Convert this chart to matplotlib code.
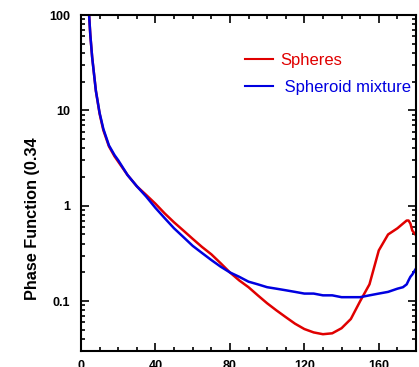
import matplotlib
matplotlib.use("Agg")
import matplotlib.pyplot as plt
from matplotlib.ticker import FixedLocator, MultipleLocator, LogLocator, NullFormatter, FixedFormatter

plt.rcParams['font.family'] = ['Liberation Sans', 'DejaVu Sans']

theta = [3, 4, 5, 6, 7, 8, 10, 12, 15, 18, 20, 25, 30, 35, 40, 45, 50, 55, 60, 65, 70,
         75, 80, 85, 90, 95, 100, 105, 110, 115, 120, 125, 130, 135, 140, 145, 150,
         155, 160, 165, 170, 173, 175, 176, 177, 178, 180]
spheres = [300, 130, 62, 36, 24, 16, 9.2, 6.2, 4.2, 3.3, 2.9, 2.1, 1.6, 1.3, 1.05, 0.83,
           0.67, 0.55, 0.45, 0.37, 0.31, 0.25, 0.2, 0.165, 0.14, 0.115, 0.095, 0.08,
           0.068, 0.058, 0.051, 0.047, 0.045, 0.046, 0.052, 0.065, 0.1, 0.15, 0.34,
           0.5, 0.58, 0.65, 0.7, 0.7, 0.65, 0.55, 0.49]
spheroids = [300, 130, 62, 36, 24, 16, 9.4, 6.4, 4.3, 3.4, 3.0, 2.1, 1.6, 1.25, 0.95,
             0.74, 0.58, 0.47, 0.38, 0.32, 0.27, 0.23, 0.2, 0.18, 0.16, 0.15, 0.14,
             0.135, 0.13, 0.125, 0.12, 0.12, 0.115, 0.115, 0.11, 0.11, 0.11, 0.115,
             0.12, 0.125, 0.135, 0.14, 0.15, 0.165, 0.18, 0.19, 0.22]

labels = ["Spheres", " Spheroid mixture"]
colors = ["#e00000", "#0000e0"]
xticks = [0, 40, 80, 120, 160]
yticks = [0.1, 1, 10, 100]
ytick_labels = ["0.1", "1", "10", "100"]
ylabel = "Phase Function (0.34"

fig = plt.figure(figsize=(4.19, 3.67), dpi=100)
ax = fig.add_axes([81/419, 1 - 351/367, (416 - 81)/419, (351 - 15)/367])

ax.plot(theta, spheres, color=colors[0], lw=1.8, label=labels[0])
ax.plot(theta, spheroids, color=colors[1], lw=1.8, label=labels[1])

ax.set_yscale('log')
ax.set_xlim(0, 180)
ax.set_ylim(0.03, 100)

ax.xaxis.set_major_locator(FixedLocator(xticks))
ax.xaxis.set_minor_locator(MultipleLocator(10))
ax.yaxis.set_major_locator(FixedLocator(yticks))
ax.yaxis.set_major_formatter(FixedFormatter(ytick_labels))
ax.yaxis.set_minor_locator(LogLocator(base=10, subs=range(2, 10)))
ax.yaxis.set_minor_formatter(NullFormatter())

ax.tick_params(which='both', direction='in', top=True, right=True, width=1.2)
ax.tick_params(which='major', length=6, labelsize=9)
ax.tick_params(axis='y', which='major', pad=8)
ax.tick_params(axis='x', which='major', pad=6.5)
ax.tick_params(which='minor', length=3)
for lab in ax.get_xticklabels() + ax.get_yticklabels():
    lab.set_fontweight('bold')
for s in ax.spines.values():
    s.set_linewidth(1.5)

fig.text(32/419, 1 - 300/367, ylabel, rotation=90, ha='center', va='bottom',
         fontsize=11.7, fontweight='bold')

leg = ax.legend(loc='upper left', bbox_to_anchor=(245/419, 1 - 53/367),
                bbox_transform=fig.transFigure, frameon=False, fontsize=12,
                handlelength=1.7, handletextpad=0.4, labelspacing=0.71,
                borderpad=0, borderaxespad=0, labelcolor='linecolor')
for h in leg.get_lines():
    h.set_linewidth(1.5)

fig.savefig("out.png", dpi=100)
